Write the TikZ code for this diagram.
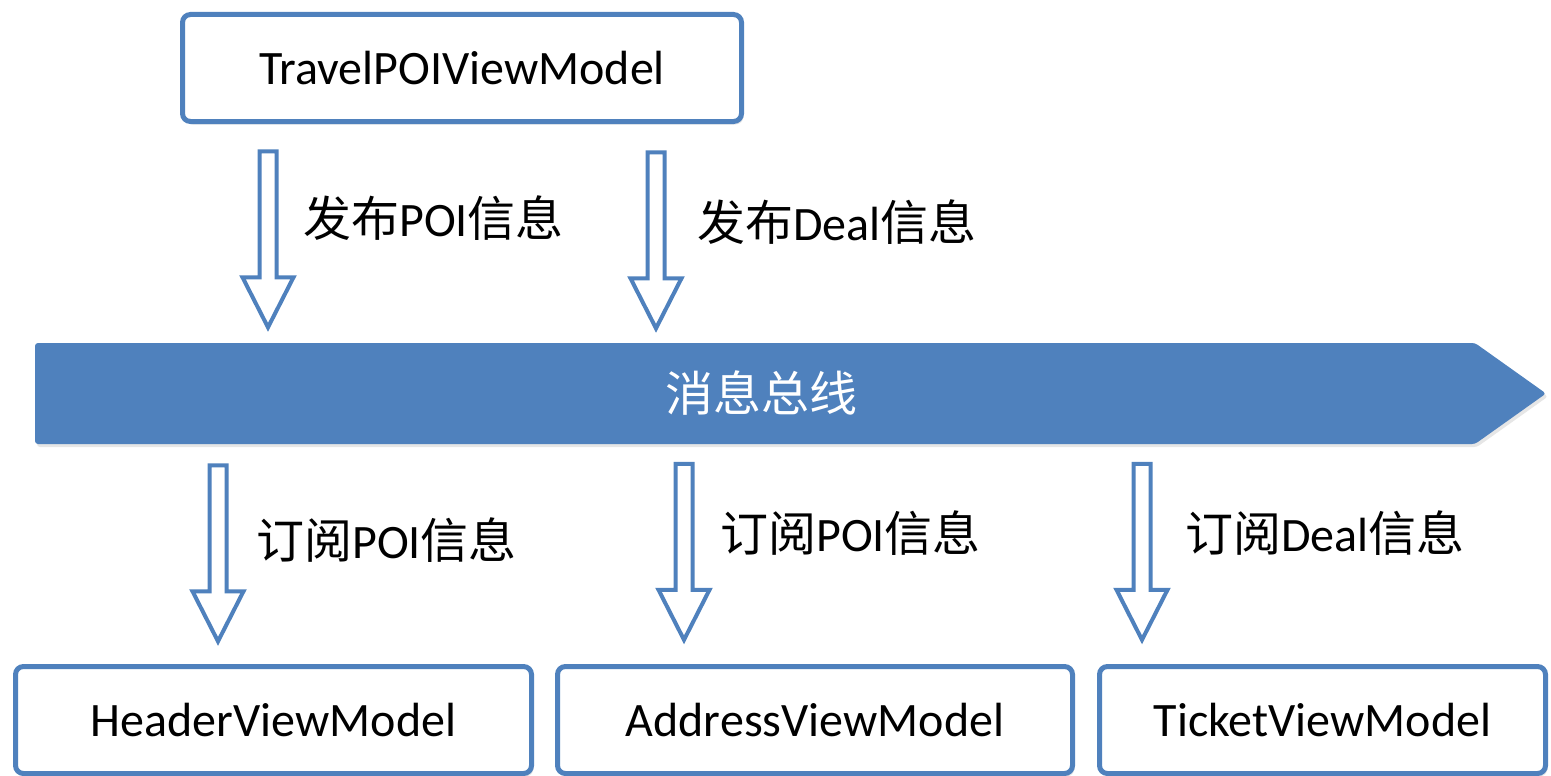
\documentclass[tikz,border=0pt]{standalone}
\usepackage{fontspec}
\setmainfont{Carlito}
\newfontfamily\cjk{Noto Sans CJK SC}
\usetikzlibrary{shapes.arrows,shadows,positioning}
\definecolor{busblue}{RGB}{79,129,189}

\begin{document}
\begin{tikzpicture}[x=1pt,y=-1pt,
  every node/.style={font=\fontsize{48}{56}\selectfont},
  vmbox/.style={draw=busblue,line width=5pt,rounded corners=8pt,fill=white,
    minimum height=107pt,inner sep=0pt,
    drop shadow={shadow xshift=2pt,shadow yshift=-3pt,opacity=0.2}},
  msgarrow/.style={single arrow,draw=busblue,line width=4pt,fill=white,rotate=-90,
    minimum height=176pt,minimum width=47pt,inner sep=6.5pt,
    single arrow head extend=17pt,single arrow tip angle=54},
  lbl/.style={anchor=west,inner sep=0pt}]
\useasboundingbox (0,0) rectangle (1551,776);

% view models
\node[vmbox,minimum width=559pt] (travel)  at (462,68)    {TravelPOIViewModel};
\node[vmbox,minimum width=516pt] (header)  at (273.5,720) {HeaderViewModel};
\node[vmbox,minimum width=515pt] (address) at (815,720)   {AddressViewModel};
\node[vmbox,minimum width=446pt] (ticket)  at (1322.5,720) {TicketViewModel};

% message bus
\fill[busblue,rounded corners=3pt,
  drop shadow={shadow xshift=2pt,shadow yshift=-3pt,opacity=0.2}]
  (35,343) -- (1475,343) -- (1546,393.5) -- (1475,444) -- (35,444) -- cycle;
\node[text=white] (bus) at (761,393.5) {\cjk 消息总线};

% publish
\node[msgarrow] (pub1) at (268,231)   {};
\node[msgarrow] (pub2) at (656,232)   {};
\node[lbl] (pubpoi)  at (303,218) {{\cjk 发布}POI{\cjk 信息}};
\node[lbl] (pubdeal) at (697,222) {{\cjk 发布}Deal{\cjk 信息}};

% subscribe
\node[msgarrow] (sub1) at (218,545)    {};
\node[msgarrow] (sub2) at (684,543.5)  {};
\node[msgarrow] (sub3) at (1142,543.5) {};
\node[lbl] (subpoia) at (256,540)  {{\cjk 订阅}POI{\cjk 信息}};
\node[lbl] (subpoib) at (720,533)  {{\cjk 订阅}POI{\cjk 信息}};
\node[lbl] (subdeal) at (1185,533) {{\cjk 订阅}Deal{\cjk 信息}};
\end{tikzpicture}
\end{document}
